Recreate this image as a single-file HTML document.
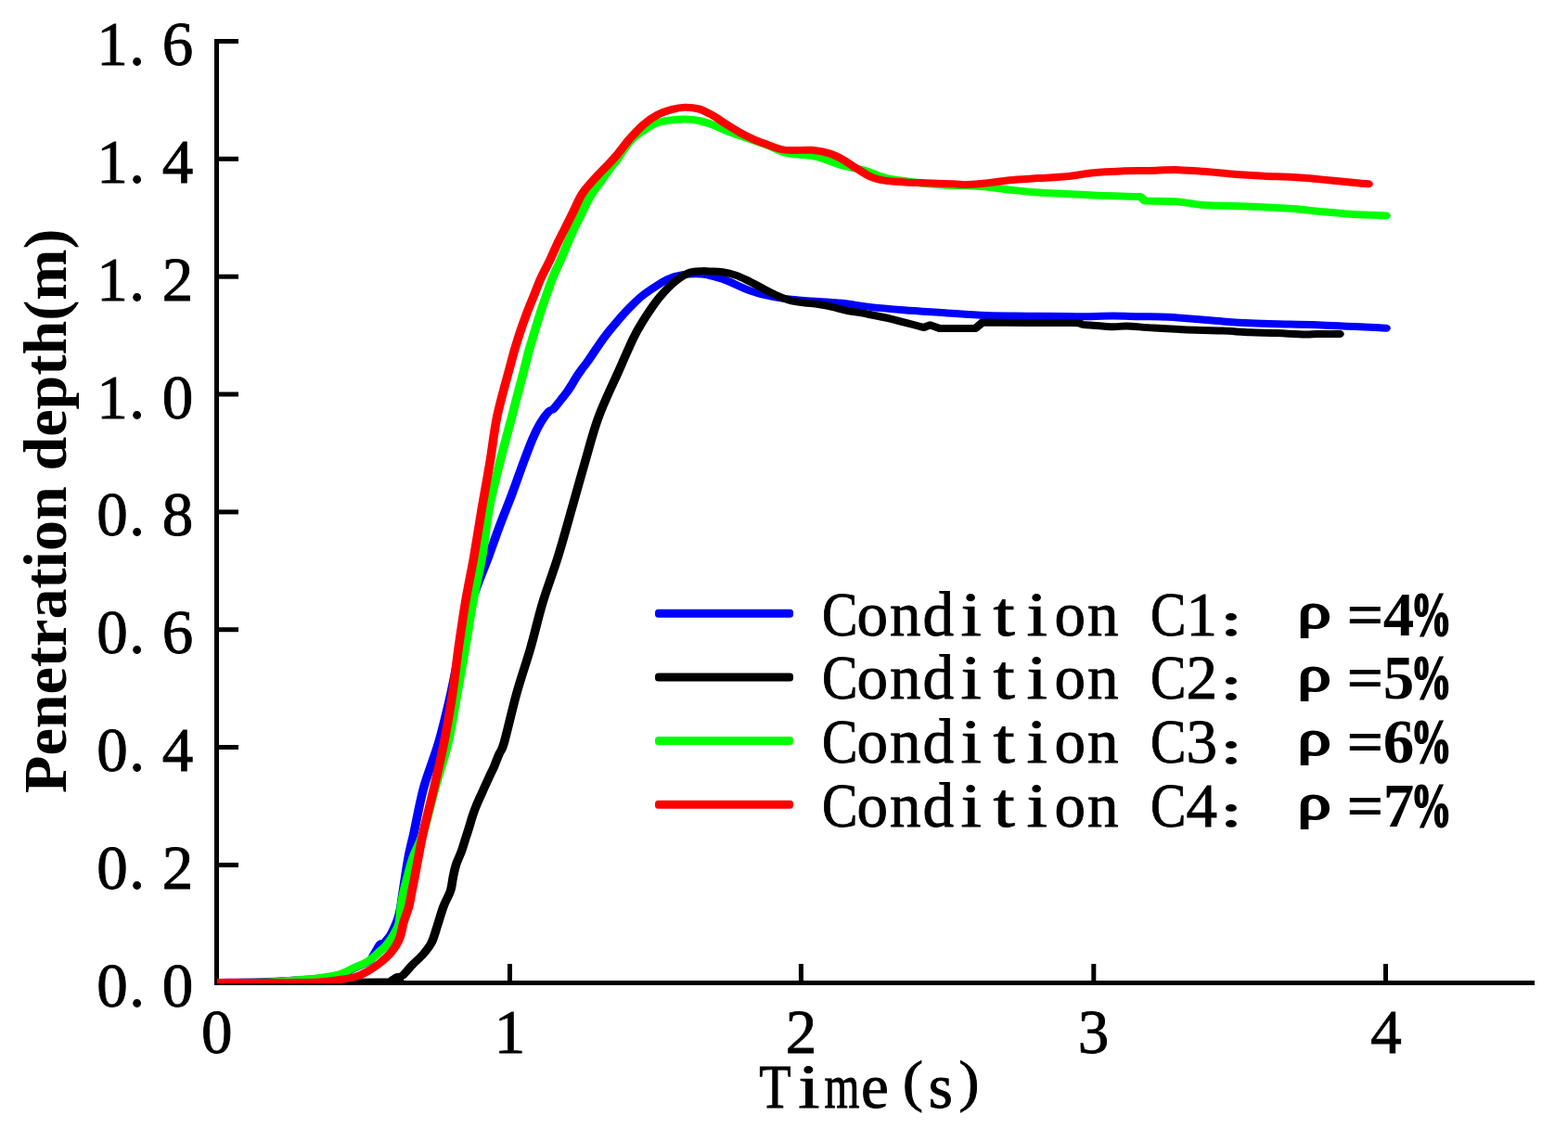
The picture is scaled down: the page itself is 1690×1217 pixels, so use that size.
<!DOCTYPE html><html><head><meta charset="utf-8"><title>Penetration depth vs time</title>
<style>html,body{margin:0;padding:0;background:#fff;overflow:hidden}svg{display:block}.sim{font-family:"Liberation Serif","Noto Serif CJK SC",serif;font-size:67px;fill:#000;stroke:#000;stroke-width:0.9px}.tnr{font-family:"Liberation Serif","Noto Serif CJK SC",serif;font-weight:bold;font-size:67px;fill:#000}</style></head><body>
<svg width="1690" height="1217" viewBox="0 0 1690 1217">
<rect width="1690" height="1217" fill="#fff"/>
<defs><clipPath id="pc"><rect x="234" y="0" width="1456" height="1060"/></clipPath></defs>
<g fill="#000">
<rect x="231" y="42" width="5" height="1020"/>
<rect x="231" y="1057" width="1423" height="5"/>
<rect x="236" y="42.0" width="21" height="5"/>
<rect x="236" y="168.8" width="21" height="5"/>
<rect x="236" y="295.7" width="21" height="5"/>
<rect x="236" y="422.5" width="21" height="5"/>
<rect x="236" y="549.4" width="21" height="5"/>
<rect x="236" y="676.2" width="21" height="5"/>
<rect x="236" y="803.0" width="21" height="5"/>
<rect x="236" y="929.9" width="21" height="5"/>
<rect x="547.0" y="1039" width="5" height="18"/>
<rect x="860.9" y="1039" width="5" height="18"/>
<rect x="1176.3" y="1039" width="5" height="18"/>
<rect x="1491.0" y="1039" width="5" height="18"/>
</g>
<g clip-path="url(#pc)"><g transform="scale(1.200 1)" fill="none" stroke-width="8.0" stroke-linejoin="round" stroke-linecap="round">
<path stroke="#0000ff" d="M195.0 1059.0 C202.5 1058.8 225.3 1058.7 240.0 1058.0 C254.7 1057.3 272.5 1056.2 283.3 1055.0 C294.2 1053.8 298.9 1053.0 304.9 1051.0 C310.9 1049.0 314.8 1045.5 319.3 1043.0 C323.7 1040.5 329.0 1038.2 331.7 1036.0 C334.4 1033.8 334.2 1032.2 335.4 1030.0 C336.6 1027.8 337.7 1025.1 338.8 1023.0 C339.8 1020.9 340.7 1018.5 341.7 1017.5 C342.6 1016.5 343.6 1017.8 344.6 1017.0 C345.6 1016.2 346.5 1014.5 347.5 1013.0 C348.5 1011.5 349.7 1010.2 350.8 1008.0 C351.9 1005.8 353.1 1003.0 354.2 1000.0 C355.3 997.0 356.6 993.3 357.5 990.0 C358.4 986.7 358.8 985.0 359.6 980.0 C360.3 975.0 360.9 969.2 362.1 960.0 C363.3 950.8 365.1 935.2 366.7 925.0 C368.2 914.8 369.3 911.2 371.6 898.6 C373.9 886.0 376.8 865.7 380.5 849.3 C384.3 832.9 390.0 816.9 394.1 800.0 C398.2 783.1 401.7 764.8 404.9 747.9 C408.1 731.0 410.3 715.0 413.3 698.6 C416.4 682.2 419.1 665.7 423.3 649.3 C427.6 632.9 434.4 614.2 438.8 600.0 C443.1 585.8 446.0 575.7 449.6 564.3 C453.2 552.9 456.8 542.5 460.2 531.5 C463.7 520.5 467.0 508.5 470.1 498.6 C473.2 488.7 476.1 479.2 478.7 472.1 C481.2 465.0 483.1 460.5 485.5 455.7 C487.9 450.9 491.1 445.9 493.0 443.4 C494.9 440.9 495.3 442.9 497.1 440.8 C498.9 438.8 501.7 434.1 503.7 431.1 C505.7 428.1 507.4 425.6 509.1 422.9 C510.7 420.1 512.2 417.4 513.6 414.6 C515.0 411.9 516.2 409.1 517.7 406.4 C519.1 403.7 520.8 400.9 522.4 398.2 C524.1 395.5 524.3 395.6 527.6 390.0 C530.9 384.4 538.0 371.3 542.3 364.3 C546.6 357.3 549.5 353.4 553.3 347.9 C557.2 342.4 561.7 336.3 565.6 331.5 C569.5 326.7 573.0 322.6 576.7 319.0 C580.3 315.4 583.5 313.0 587.3 310.0 C591.2 307.0 595.6 303.2 599.7 301.0 C603.8 298.8 606.9 297.4 612.0 296.5 C617.1 295.6 624.3 294.9 630.5 295.6 C636.7 296.3 641.8 297.9 649.0 300.8 C656.2 303.8 666.4 310.2 673.6 313.3 C680.8 316.4 685.9 317.7 692.1 319.3 C698.2 320.9 703.4 321.9 710.6 322.8 C717.8 323.8 727.0 324.3 735.2 325.0 C743.5 325.7 752.6 326.3 759.9 327.2 C767.2 328.1 770.5 329.4 779.2 330.6 C787.8 331.8 800.4 333.2 812.0 334.3 C823.6 335.4 836.7 336.3 849.0 337.3 C861.3 338.3 873.6 339.5 885.9 340.1 C898.2 340.7 910.6 340.5 922.9 340.7 C935.3 340.9 951.2 341.0 959.9 341.1 C968.6 341.2 968.4 341.3 975.0 341.2 C981.6 341.1 991.4 340.5 999.7 340.5 C1007.9 340.5 1016.1 341.0 1024.3 341.2 C1032.6 341.4 1040.8 341.3 1049.0 341.8 C1057.2 342.3 1065.4 343.2 1073.6 344.0 C1081.8 344.8 1090.0 345.7 1098.3 346.4 C1106.5 347.1 1114.7 347.8 1122.9 348.3 C1131.1 348.8 1137.5 349.0 1147.6 349.3 C1157.7 349.6 1167.1 349.5 1183.3 350.2 C1199.6 350.9 1234.7 353.1 1245.0 353.7"/>
<path stroke="#000000" d="M195.0 1059.0 C220.1 1058.9 319.6 1059.0 345.8 1058.5 C372.1 1058.0 350.7 1056.9 352.5 1056.0 C354.3 1055.1 355.1 1053.8 356.7 1053.0 C358.2 1052.2 359.5 1053.5 361.7 1051.5 C363.8 1049.5 366.5 1045.0 369.6 1041.1 C372.7 1037.2 377.4 1032.4 380.4 1028.2 C383.4 1024.0 385.6 1021.0 387.6 1016.1 C389.6 1011.2 390.8 1005.3 392.6 998.8 C394.4 992.3 396.3 983.8 398.3 977.3 C400.3 970.8 403.2 965.5 404.7 960.0 C406.1 954.5 406.2 949.3 407.1 944.5 C407.9 939.7 408.6 935.8 409.8 931.4 C411.0 927.0 412.9 922.7 414.3 918.3 C415.6 913.9 416.7 909.5 417.8 905.1 C419.0 900.7 420.2 896.4 421.3 892.0 C422.5 887.6 423.3 883.2 424.6 878.8 C425.8 874.4 427.2 870.1 428.8 865.7 C430.3 861.3 432.0 857.0 433.7 852.6 C435.3 848.2 437.0 843.8 438.7 839.4 C440.3 835.0 442.2 830.7 443.8 826.3 C445.3 821.9 446.6 817.5 448.2 813.1 C449.7 808.7 450.3 810.9 452.9 800.0 C455.5 789.1 460.0 764.8 463.9 747.9 C467.8 731.0 472.6 715.0 476.5 698.6 C480.4 682.2 483.4 665.7 487.5 649.3 C491.6 632.9 496.9 616.9 501.2 600.0 C505.6 583.1 509.7 564.8 513.7 547.9 C517.7 531.0 521.3 515.0 525.3 498.6 C529.3 482.2 532.6 465.7 537.7 449.3 C542.7 432.9 550.4 414.2 555.7 400.0 C560.9 385.8 565.5 373.0 569.0 364.3 C572.5 355.6 573.8 353.4 576.6 347.9 C579.3 342.4 582.7 336.4 585.5 331.5 C588.3 326.6 590.1 323.4 593.5 318.8 C596.9 314.2 601.7 308.1 605.8 304.0 C609.9 299.9 614.1 296.4 618.2 294.4 C622.3 292.4 627.4 292.5 630.5 292.2 C633.6 291.9 633.6 292.3 636.7 292.5 C639.8 292.7 644.9 292.5 649.0 293.2 C653.1 293.9 657.2 295.2 661.3 296.9 C665.4 298.6 669.5 301.2 673.6 303.6 C677.7 306.0 681.8 308.9 685.9 311.4 C690.0 313.9 694.1 316.6 698.2 318.8 C702.4 321.0 706.5 323.0 710.6 324.3 C714.7 325.6 718.8 325.9 722.9 326.5 C727.0 327.1 731.1 327.3 735.2 328.0 C739.4 328.7 743.5 329.8 747.6 330.9 C751.7 332.0 754.7 333.3 759.9 334.6 C765.2 335.9 772.5 337.1 779.2 338.6 C785.8 340.1 791.7 341.4 799.7 343.6 C807.6 345.9 821.8 350.5 826.8 352.1 L829.6 353.0 L835.4 350.3 L844.0 354.0 L876.1 354.0 L882.3 347.6 L922.9 347.9 C936.7 348.0 956.6 347.8 964.8 348.1 C973.1 348.4 969.9 349.5 972.3 349.9 C974.6 350.3 974.6 350.0 979.2 350.4 C983.7 350.8 994.2 352.1 999.7 352.3 C1005.1 352.5 1005.8 351.2 1012.0 351.4 C1018.2 351.6 1026.4 352.9 1036.7 353.6 C1046.9 354.3 1063.3 355.2 1073.6 355.7 C1083.8 356.2 1090.0 356.2 1098.3 356.6 C1106.5 357.0 1114.7 357.8 1122.9 358.2 C1131.1 358.6 1139.4 358.7 1147.6 359.1 C1155.8 359.5 1166.3 360.3 1172.2 360.4 C1178.2 360.5 1178.2 360.0 1183.3 359.9 C1188.5 359.8 1200.0 360.0 1203.3 360.0"/>
<path stroke="#00ff00" d="M195.0 1059.0 C202.5 1058.9 228.2 1059.0 240.0 1058.6 C251.8 1058.2 258.4 1057.1 265.7 1056.4 C272.9 1055.7 276.8 1055.6 283.3 1054.6 C289.9 1053.6 298.9 1052.2 304.9 1050.2 C310.9 1048.2 315.0 1044.8 319.3 1042.5 C323.5 1040.2 327.2 1038.6 330.2 1036.5 C333.2 1034.4 335.3 1032.0 337.2 1030.0 C339.2 1028.0 340.5 1026.2 342.1 1024.5 C343.7 1022.8 344.9 1021.9 346.7 1019.5 C348.4 1017.1 350.9 1012.9 352.5 1010.0 C354.1 1007.1 355.2 1004.7 356.2 1002.0 C357.3 999.3 358.1 998.1 358.8 994.0 C359.4 989.9 359.6 983.0 360.2 977.3 C360.9 971.6 361.2 968.7 362.9 960.0 C364.7 951.3 368.0 935.2 370.8 925.0 C373.7 914.8 376.6 911.2 379.9 898.6 C383.2 886.0 387.1 865.7 390.8 849.3 C394.6 832.9 399.2 816.9 402.5 800.0 C405.8 783.1 408.0 764.8 410.6 747.9 C413.1 731.0 415.5 715.0 417.8 698.6 C420.2 682.2 422.1 665.7 424.6 649.3 C427.1 632.9 430.5 616.9 432.9 600.0 C435.4 583.1 436.7 564.8 439.3 547.9 C442.0 531.0 445.5 515.0 448.9 498.6 C452.3 482.2 456.1 465.7 459.7 449.3 C463.2 432.9 467.9 411.8 470.4 400.0 C473.0 388.2 473.4 385.5 474.9 378.6 C476.5 371.8 478.1 365.5 479.8 358.9 C481.4 352.3 483.1 345.8 484.8 339.2 C486.6 332.6 488.5 326.0 490.4 319.4 C492.3 312.8 494.1 306.3 496.3 299.7 C498.5 293.1 501.3 286.3 503.6 280.0 C505.8 273.7 507.8 267.8 509.8 262.1 C511.9 256.4 513.7 251.2 515.8 245.7 C518.0 240.2 520.4 234.8 522.7 229.3 C524.9 223.8 526.8 218.4 529.5 212.9 C532.2 207.4 535.8 201.9 539.1 196.4 C542.3 190.9 546.6 183.9 549.0 180.0 C551.4 176.1 550.8 177.5 553.7 172.8 C556.5 168.1 561.9 157.4 566.0 152.0 C570.1 146.6 574.2 143.6 578.3 140.3 C582.4 137.0 586.6 134.0 590.7 132.2 C594.8 130.4 598.9 130.1 603.0 129.5 C607.1 128.9 611.2 128.4 615.2 128.5 C619.3 128.6 623.5 129.0 627.6 130.0 C631.7 131.0 635.8 132.6 639.9 134.4 C644.0 136.2 648.1 139.0 652.3 141.0 C656.4 143.0 658.4 143.6 664.6 146.2 C670.8 148.8 682.0 153.4 689.2 156.6 C696.5 159.8 701.0 163.5 708.3 165.5 C715.6 167.5 724.8 166.6 733.0 168.8 C741.2 171.0 750.5 176.4 757.7 178.8 C764.9 181.2 770.0 181.4 776.2 183.5 C782.3 185.6 788.6 189.6 794.7 191.5 C800.7 193.4 806.3 193.9 812.5 195.0 C818.7 196.1 824.4 197.2 831.6 198.0 C838.8 198.8 847.6 199.5 855.8 200.0 C864.1 200.5 872.2 200.2 880.9 201.0 C889.7 201.8 899.7 203.6 908.3 204.7 C917.0 205.8 924.8 206.9 933.0 207.6 C941.2 208.3 949.4 208.5 957.7 209.0 C965.9 209.5 972.1 210.1 982.3 210.6 C992.6 211.1 1012.3 211.7 1019.2 211.9 L1024.2 212.0 L1028.3 216.5 L1056.2 217.2 C1065.0 217.9 1072.2 220.2 1080.9 221.0 C1089.6 221.8 1099.3 221.5 1108.3 221.9 C1117.3 222.3 1126.1 222.8 1135.0 223.3 C1143.9 223.8 1152.7 224.3 1161.6 225.1 C1170.5 225.9 1179.4 227.3 1188.3 228.3 C1197.1 229.3 1205.4 230.2 1214.8 230.9 C1224.3 231.6 1240.0 232.2 1245.0 232.5"/>
<path stroke="#ff0000" d="M195.0 1059.0 C202.5 1059.0 225.3 1059.0 240.0 1059.0 C254.7 1059.0 272.5 1059.3 283.3 1058.8 C294.2 1058.3 298.9 1057.0 304.9 1056.0 C310.9 1055.0 315.1 1054.5 319.3 1053.0 C323.4 1051.5 326.5 1049.5 330.1 1047.1 C333.7 1044.7 337.2 1042.0 340.8 1038.5 C344.4 1035.0 348.7 1030.5 351.7 1026.0 C354.7 1021.5 357.0 1017.0 358.8 1011.8 C360.6 1006.5 361.0 1000.2 362.4 994.5 C363.8 988.8 366.0 983.0 367.2 977.3 C368.5 971.5 369.2 964.9 370.0 960.0 C370.8 955.1 370.4 958.1 372.1 947.9 C373.7 937.7 377.0 915.0 379.9 898.6 C382.9 882.2 386.6 865.7 389.8 849.3 C392.9 832.9 396.1 816.9 398.9 800.0 C401.7 783.1 404.3 764.8 406.4 747.9 C408.6 731.0 409.9 715.0 411.8 698.6 C413.8 682.2 415.7 665.7 418.0 649.3 C420.3 632.9 423.2 616.9 425.7 600.0 C428.1 583.1 430.4 564.8 432.8 547.9 C435.2 531.0 437.7 515.0 440.0 498.6 C442.3 482.2 443.6 465.7 446.4 449.3 C449.3 432.9 454.4 411.8 457.0 400.0 C459.6 388.2 460.2 385.5 461.8 378.6 C463.5 371.8 465.1 365.5 466.9 358.9 C468.7 352.3 470.6 345.8 472.7 339.2 C474.7 332.6 477.0 326.0 479.3 319.4 C481.5 312.8 483.4 306.3 485.9 299.7 C488.4 293.1 491.6 286.3 494.1 280.0 C496.6 273.7 498.6 267.8 500.8 262.1 C503.1 256.4 505.4 251.2 507.7 245.7 C509.9 240.2 512.3 234.8 514.5 229.3 C516.7 223.8 519.2 217.0 521.0 212.9 C522.8 208.8 523.7 207.3 525.4 204.6 C527.1 201.8 529.2 199.1 531.2 196.4 C533.2 193.7 535.3 190.9 537.4 188.2 C539.6 185.5 541.4 183.4 544.1 180.0 C546.8 176.6 550.0 172.8 553.7 167.7 C557.3 162.6 561.9 154.8 566.0 149.2 C570.1 143.6 574.2 138.2 578.3 133.9 C582.4 129.6 586.6 126.2 590.7 123.6 C594.8 121.0 598.9 119.4 603.0 118.1 C607.1 116.8 611.2 115.8 615.2 115.7 C619.3 115.6 623.5 116.0 627.6 117.4 C631.7 118.8 635.8 121.5 639.9 124.3 C644.0 127.0 648.1 130.8 652.3 133.9 C656.4 137.0 660.5 140.1 664.6 142.8 C668.7 145.5 672.8 148.0 676.9 150.2 C681.0 152.4 685.1 154.0 689.2 155.8 C693.4 157.6 697.7 159.9 701.6 161.0 C705.5 162.1 707.9 162.0 712.5 162.1 C717.1 162.2 723.8 161.2 729.2 161.8 C734.7 162.4 740.6 163.7 745.3 165.5 C750.1 167.3 753.6 169.7 757.7 172.5 C761.8 175.3 765.9 179.1 770.0 182.1 C774.1 185.1 778.2 188.6 782.3 190.7 C786.4 192.8 789.5 193.6 794.7 194.6 C799.8 195.6 806.9 195.9 813.1 196.4 C819.2 196.9 824.4 197.0 831.6 197.3 C838.8 197.6 850.1 198.0 856.2 198.3 C862.4 198.6 863.4 199.3 868.6 199.1 C873.7 198.9 880.7 198.1 887.1 197.3 C893.4 196.5 899.0 195.2 906.7 194.3 C914.3 193.4 924.5 192.8 933.0 192.1 C941.5 191.4 949.4 191.3 957.7 190.3 C965.9 189.3 974.1 187.2 982.3 186.2 C990.5 185.2 998.7 184.8 1006.9 184.4 C1015.1 184.0 1023.4 184.2 1031.6 184.0 C1039.8 183.8 1048.0 183.0 1056.2 183.1 C1064.5 183.2 1072.7 184.0 1080.9 184.7 C1089.1 185.4 1096.6 186.6 1105.6 187.4 C1114.6 188.2 1125.7 189.1 1135.0 189.7 C1144.3 190.3 1152.7 190.3 1161.6 191.0 C1170.5 191.7 1179.4 192.6 1188.3 193.6 C1197.1 194.6 1208.0 196.0 1214.8 196.8 C1221.7 197.6 1226.8 198.1 1229.2 198.3"/>
</g></g>
<text class="sim" text-anchor="middle" x="121.0 147.5 191.5" y="70.0">1.6</text>
<text class="sim" text-anchor="middle" x="121.0 147.5 191.5" y="196.8">1.4</text>
<text class="sim" text-anchor="middle" x="121.0 147.5 191.5" y="323.7">1.2</text>
<text class="sim" text-anchor="middle" x="121.0 147.5 191.5" y="450.5">1.0</text>
<text class="sim" text-anchor="middle" x="121.0 147.5 191.5" y="577.4">0.8</text>
<text class="sim" text-anchor="middle" x="121.0 147.5 191.5" y="704.2">0.6</text>
<text class="sim" text-anchor="middle" x="121.0 147.5 191.5" y="831.0">0.4</text>
<text class="sim" text-anchor="middle" x="121.0 147.5 191.5" y="957.9">0.2</text>
<text class="sim" text-anchor="middle" x="121.0 147.5 191.5" y="1084.7">0.0</text>
<text class="sim" text-anchor="middle" x="233.7" y="1135.0">0</text>
<text class="sim" text-anchor="middle" x="549.4" y="1135.0">1</text>
<text class="sim" text-anchor="middle" x="863.4" y="1135.0">2</text>
<text class="sim" text-anchor="middle" x="1178.6" y="1135.0">3</text>
<text class="sim" text-anchor="middle" x="1494.0" y="1135.0">4</text>
<text class="sim" text-anchor="middle" transform="translate(835.4 1194.0) scale(0.840 1.000)">T</text>
<text class="sim" text-anchor="middle" transform="translate(871.9 1194.0) scale(1.250 1.000)">i</text>
<text class="sim" text-anchor="middle" transform="translate(907.4 1194.0) scale(0.730 1.000)">m</text>
<text class="sim" text-anchor="middle" x="942.9" y="1194.0">e</text>
<text class="sim" text-anchor="middle" transform="translate(983.9 1186.2) scale(1.000 0.920)">(</text>
<text class="sim" text-anchor="middle" x="1013.9" y="1194.0">s</text>
<text class="sim" text-anchor="middle" transform="translate(1044.4 1186.2) scale(1.000 0.920)">)</text>
<text class="tnr" font-size="66.2" style="font-size:66.2px" transform="translate(70.6 855) rotate(-90)" x="0" y="0">Penetration depth(m)</text>
<rect x="706" y="656.8" width="149" height="9" rx="3.5" fill="#0000ff"/>
<text class="sim" text-anchor="middle" transform="translate(905.2 684.7) scale(0.860 1.000)">C</text>
<text class="sim" text-anchor="middle" x="940.2 975.7 1011.2" y="684.7">ond</text>
<text class="sim" text-anchor="middle" transform="translate(1046.7 684.7) scale(1.200 1.000)">i</text>
<text class="sim" text-anchor="middle" transform="translate(1082.2 684.7) scale(1.250 1.000)">t</text>
<text class="sim" text-anchor="middle" transform="translate(1117.7 684.7) scale(1.200 1.000)">i</text>
<text class="sim" text-anchor="middle" x="1153.2 1188.7" y="684.7">on</text>
<text class="sim" text-anchor="middle" transform="translate(1259.2 684.7) scale(0.860 1.000)">C</text>
<text class="sim" text-anchor="middle" x="1295.2" y="684.7">1</text>
<text class="tnr" text-anchor="middle" transform="translate(1342.5 687.2) scale(1.000 0.670)">：</text>
<text class="sim" text-anchor="middle" transform="translate(1416.6 675.7) scale(1.080 0.780)" style="stroke-width:2.6px">ρ</text>
<text class="tnr" text-anchor="middle" transform="translate(1471.5 684.7) scale(1.060 1.000)">=</text>
<text class="tnr" text-anchor="middle" x="1507.4" y="684.7">4</text>
<text class="tnr" text-anchor="middle" transform="translate(1542.5 684.7) scale(0.660 1.000)" style="stroke:#000;stroke-width:2px">%</text>
<rect x="706" y="725.5" width="149" height="9" rx="3.5" fill="#000000"/>
<text class="sim" text-anchor="middle" transform="translate(905.2 753.4) scale(0.860 1.000)">C</text>
<text class="sim" text-anchor="middle" x="940.2 975.7 1011.2" y="753.4">ond</text>
<text class="sim" text-anchor="middle" transform="translate(1046.7 753.4) scale(1.200 1.000)">i</text>
<text class="sim" text-anchor="middle" transform="translate(1082.2 753.4) scale(1.250 1.000)">t</text>
<text class="sim" text-anchor="middle" transform="translate(1117.7 753.4) scale(1.200 1.000)">i</text>
<text class="sim" text-anchor="middle" x="1153.2 1188.7" y="753.4">on</text>
<text class="sim" text-anchor="middle" transform="translate(1259.2 753.4) scale(0.860 1.000)">C</text>
<text class="sim" text-anchor="middle" x="1295.2" y="753.4">2</text>
<text class="tnr" text-anchor="middle" transform="translate(1342.5 755.9) scale(1.000 0.670)">：</text>
<text class="sim" text-anchor="middle" transform="translate(1416.6 744.4) scale(1.080 0.780)" style="stroke-width:2.6px">ρ</text>
<text class="tnr" text-anchor="middle" transform="translate(1471.5 753.4) scale(1.060 1.000)">=</text>
<text class="tnr" text-anchor="middle" x="1507.4" y="753.4">5</text>
<text class="tnr" text-anchor="middle" transform="translate(1542.5 753.4) scale(0.660 1.000)" style="stroke:#000;stroke-width:2px">%</text>
<rect x="706" y="794.1" width="149" height="9" rx="3.5" fill="#00ff00"/>
<text class="sim" text-anchor="middle" transform="translate(905.2 822.0) scale(0.860 1.000)">C</text>
<text class="sim" text-anchor="middle" x="940.2 975.7 1011.2" y="822.0">ond</text>
<text class="sim" text-anchor="middle" transform="translate(1046.7 822.0) scale(1.200 1.000)">i</text>
<text class="sim" text-anchor="middle" transform="translate(1082.2 822.0) scale(1.250 1.000)">t</text>
<text class="sim" text-anchor="middle" transform="translate(1117.7 822.0) scale(1.200 1.000)">i</text>
<text class="sim" text-anchor="middle" x="1153.2 1188.7" y="822.0">on</text>
<text class="sim" text-anchor="middle" transform="translate(1259.2 822.0) scale(0.860 1.000)">C</text>
<text class="sim" text-anchor="middle" x="1295.2" y="822.0">3</text>
<text class="tnr" text-anchor="middle" transform="translate(1342.5 824.5) scale(1.000 0.670)">：</text>
<text class="sim" text-anchor="middle" transform="translate(1416.6 813.0) scale(1.080 0.780)" style="stroke-width:2.6px">ρ</text>
<text class="tnr" text-anchor="middle" transform="translate(1471.5 822.0) scale(1.060 1.000)">=</text>
<text class="tnr" text-anchor="middle" x="1507.4" y="822.0">6</text>
<text class="tnr" text-anchor="middle" transform="translate(1542.5 822.0) scale(0.660 1.000)" style="stroke:#000;stroke-width:2px">%</text>
<rect x="706" y="862.8" width="149" height="9" rx="3.5" fill="#ff0000"/>
<text class="sim" text-anchor="middle" transform="translate(905.2 890.7) scale(0.860 1.000)">C</text>
<text class="sim" text-anchor="middle" x="940.2 975.7 1011.2" y="890.7">ond</text>
<text class="sim" text-anchor="middle" transform="translate(1046.7 890.7) scale(1.200 1.000)">i</text>
<text class="sim" text-anchor="middle" transform="translate(1082.2 890.7) scale(1.250 1.000)">t</text>
<text class="sim" text-anchor="middle" transform="translate(1117.7 890.7) scale(1.200 1.000)">i</text>
<text class="sim" text-anchor="middle" x="1153.2 1188.7" y="890.7">on</text>
<text class="sim" text-anchor="middle" transform="translate(1259.2 890.7) scale(0.860 1.000)">C</text>
<text class="sim" text-anchor="middle" x="1295.2" y="890.7">4</text>
<text class="tnr" text-anchor="middle" transform="translate(1342.5 893.2) scale(1.000 0.670)">：</text>
<text class="sim" text-anchor="middle" transform="translate(1416.6 881.7) scale(1.080 0.780)" style="stroke-width:2.6px">ρ</text>
<text class="tnr" text-anchor="middle" transform="translate(1471.5 890.7) scale(1.060 1.000)">=</text>
<text class="tnr" text-anchor="middle" x="1507.4" y="890.7">7</text>
<text class="tnr" text-anchor="middle" transform="translate(1542.5 890.7) scale(0.660 1.000)" style="stroke:#000;stroke-width:2px">%</text>
</svg></body></html>
